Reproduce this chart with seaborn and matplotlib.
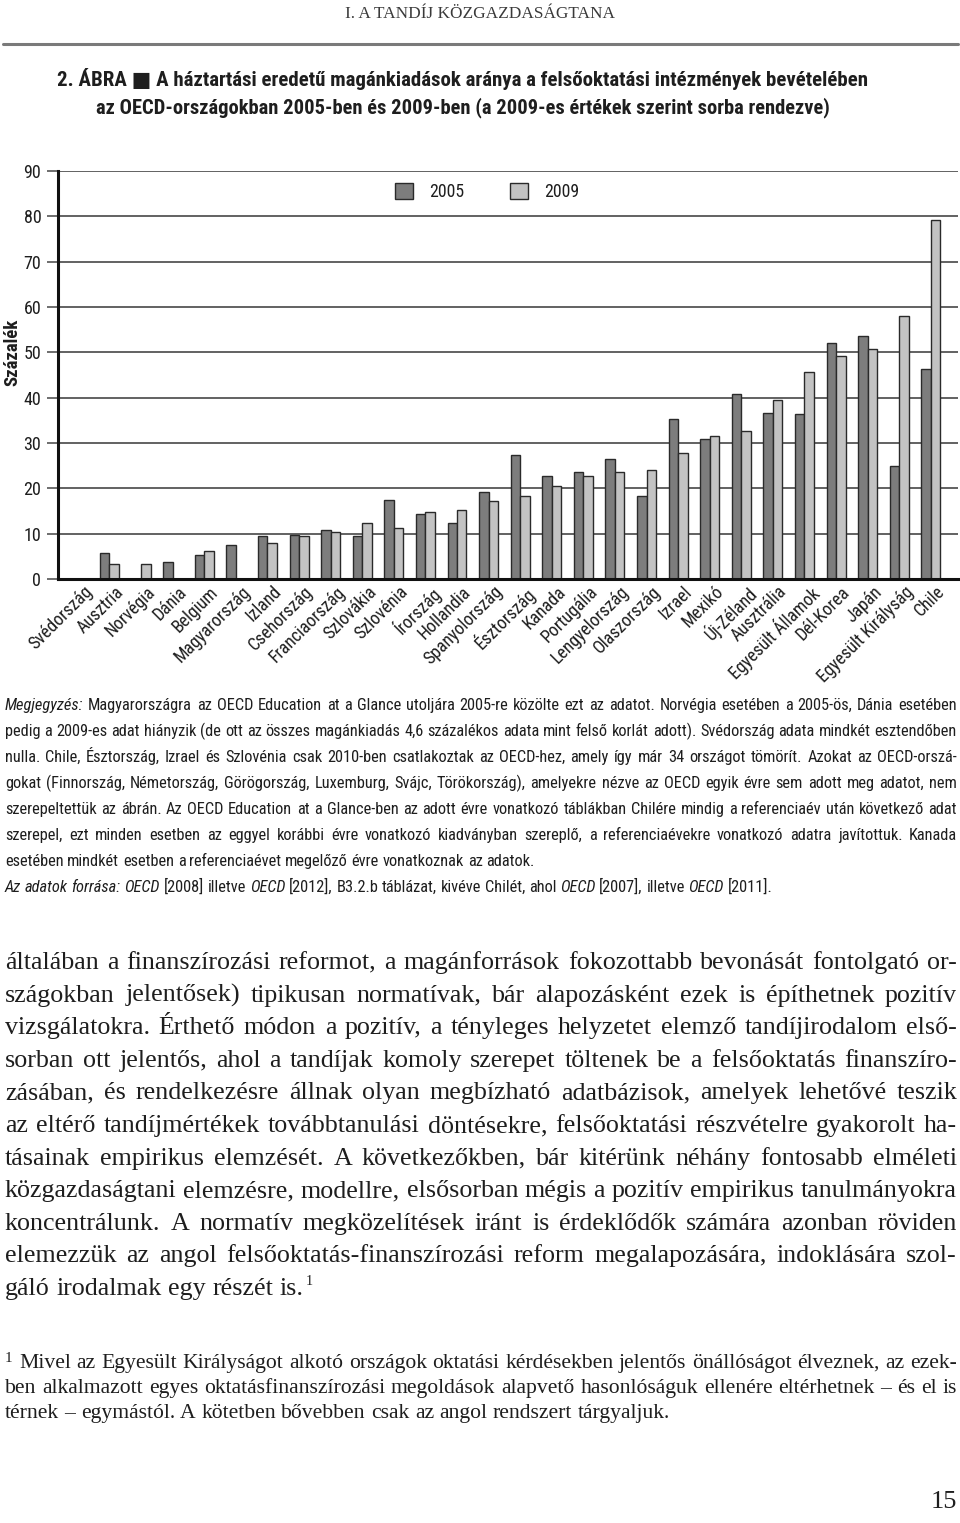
import numpy as np
import pandas as pd
import matplotlib
matplotlib.use("Agg")
import matplotlib.pyplot as plt
import seaborn as sns
from matplotlib import font_manager as fm
from matplotlib.transforms import IdentityTransform, ScaledTranslation

# ---------------- data ----------------
countries = ["Svédország", "Ausztria", "Norvégia", "Dánia", "Belgium", "Magyarország",
             "Izland", "Csehország", "Franciaország", "Szlovákia", "Szlovénia", "Írország",
             "Hollandia", "Spanyolország", "Észtország", "Kanada", "Portugália",
             "Lengyelország", "Olaszország", "Izrael", "Mexikó", "Új-Zéland", "Ausztrália",
             "Egyesült Államok", "Dél-Korea", "Japán", "Egyesült Királyság", "Chile"]
v2005 = [0.0, 5.8, np.nan, 3.8, 5.4, 7.6, 9.5, 9.8, 10.7, 9.5, 17.5, 14.3, 12.3, 19.2,
         27.3, 22.8, 23.6, 26.5, 18.4, 35.3, 30.9, 40.7, 36.6, 36.3, 52.1, 53.7, 24.9, 46.4]
v2009 = [0.0, 3.3, 3.3, np.nan, 6.2, np.nan, 7.9, 9.5, 10.3, 12.3, 11.2, 14.8, 15.3, 17.3,
         18.4, 20.6, 22.8, 23.6, 24.1, 27.8, 31.6, 32.6, 39.5, 45.6, 49.3, 50.8, 58.1, 79.2]
years = ["2005", "2009"]
yticks = [0, 10, 20, 30, 40, 50, 60, 70, 80, 90]

header = "I. A TANDÍJ KÖZGAZDASÁGTANA"
title1 = "2. ÁBRA ■ A háztartási eredetű magánkiadások aránya a felsőoktatási intézmények bevételében"
title2 = "az OECD-országokban 2005-ben és 2009-ben (a 2009-es értékek szerint sorba rendezve)"
ylabel = "Százalék"

notes = [
    ([("Megjegyzés:", "italic"), ("Magyarországra az OECD Education at a Glance utoljára 2005-re közölte ezt az adatot. Norvégia esetében a 2005-ös, Dánia esetében", "normal")], True),
    ([("pedig a 2009-es adat hiányzik (de ott az összes magánkiadás 4,6 százalékos adata mint felső korlát adott). Svédország adata mindkét esztendőben", "normal")], True),
    ([("nulla. Chile, Észtország, Izrael és Szlovénia csak 2010-ben csatlakoztak az OECD-hez, amely így már 34 országot tömörít. Azokat az OECD-orszá-", "normal")], True),
    ([("gokat (Finnország, Németország, Görögország, Luxemburg, Svájc, Törökország), amelyekre nézve az OECD egyik évre sem adott meg adatot, nem", "normal")], True),
    ([("szerepeltettük az ábrán. Az OECD Education at a Glance-ben az adott évre vonatkozó táblákban Chilére mindig a referenciaév után következő adat", "normal")], True),
    ([("szerepel, ezt minden esetben az eggyel korábbi évre vonatkozó kiadványban szereplő, a referenciaévekre vonatkozó adatra javítottuk. Kanada", "normal")], True),
    ([("esetében mindkét esetben a referenciaévet megelőző évre vonatkoznak az adatok.", "normal")], False),
    ([("Az adatok forrása: OECD", "italic"), ("[2008] illetve", "normal"), ("OECD", "italic"), ("[2012], B3.2.b táblázat, kivéve Chilét, ahol", "normal"), ("OECD", "italic"), ("[2007], illetve", "normal"), ("OECD", "italic"), ("[2011].", "normal")], False),
]

body = [
    "általában a finanszírozási reformot, a magánforrások fokozottabb bevonását fontolgató or-",
    "szágokban jelentősek) tipikusan normatívak, bár alapozásként ezek is építhetnek pozitív",
    "vizsgálatokra. Érthető módon a pozitív, a tényleges helyzetet elemző tandíjirodalom első-",
    "sorban ott jelentős, ahol a tandíjak komoly szerepet töltenek be a felsőoktatás finanszíro-",
    "zásában, és rendelkezésre állnak olyan megbízható adatbázisok, amelyek lehetővé teszik",
    "az eltérő tandíjmértékek továbbtanulási döntésekre, felsőoktatási részvételre gyakorolt ha-",
    "tásainak empirikus elemzését. A következőkben, bár kitérünk néhány fontosabb elméleti",
    "közgazdaságtani elemzésre, modellre, elsősorban mégis a pozitív empirikus tanulmányokra",
    "koncentrálunk. A normatív megközelítések iránt is érdeklődők számára azonban röviden",
    "elemezzük az angol felsőoktatás-finanszírozási reform megalapozására, indoklására szol-",
    "gáló irodalmak egy részét is.",
]
footnote = [
    "Mivel az Egyesült Királyságot alkotó országok oktatási kérdésekben jelentős önállóságot élveznek, az ezek-",
    "ben alkalmazott egyes oktatásfinanszírozási megoldások alapvető hasonlóságuk ellenére eltérhetnek – és el is",
    "térnek – egymástól. A kötetben bővebben csak az angol rendszert tárgyaljuk.",
]
page_no = "15"

# ---------------- fonts ----------------
names = {f.name for f in fm.fontManager.ttflist}
cond_list = sorted({(f.name, str(f.stretch)) for f in fm.fontManager.ttflist
                    if ("Condensed" in f.name or "Narrow" in f.name or "condensed" in str(f.stretch))})


def pick_condensed():
    for p in ["Roboto Condensed", "Liberation Sans Narrow", "Open Sans Condensed",
              "Noto Sans Condensed", "DejaVu Sans Condensed"]:
        if p in names:
            return p, "normal"
    for pref in ["DejaVu Sans", "Noto Sans", "Open Sans", "Roboto"]:
        for n_, st in cond_list:
            if n_ == pref and "condensed" in st:
                return n_, st
    return "DejaVu Sans", "normal"


COND, STRETCH = pick_condensed()
SERIF = "Liberation Serif" if "Liberation Serif" in names else "DejaVu Serif"
CONDF = [COND, "DejaVu Sans"]
SERIFF = [SERIF, "DejaVu Serif"]

sns.set_theme(style="white")
plt.rcParams["font.family"] = CONDF
plt.rcParams["font.stretch"] = STRETCH

W, H = 960, 1523
fig = plt.figure(figsize=(W / 100, H / 100), dpi=100)
fig.patch.set_facecolor("white")
R = fig.canvas.get_renderer()
ID = IdentityTransform()
TXT = "#1e1e1e"
CK = dict(family=CONDF, fontstretch=STRETCH)

# ---------------- chart ----------------
ax_left, ax_right, ax_top, ax_bot = 58, 958, 171, 579
ax = fig.add_axes([ax_left / W, (H - ax_bot) / H, (ax_right - ax_left) / W, (ax_bot - ax_top) / H])

df = pd.DataFrame({
    "Ország": countries * 2,
    "Év": [years[0]] * len(countries) + [years[1]] * len(countries),
    "Érték": v2005 + v2009,
}).dropna()

sns.barplot(data=df, x="Ország", y="Érték", hue="Év", order=countries, hue_order=years,
            palette=["#7d7d7d", "#c3c3c3"], saturation=1, width=0.6, gap=0,
            edgecolor="#2a2a2a", linewidth=1.0, errorbar=None, ax=ax, zorder=3)

ax.set_xlim(-0.63, 27.86)
ax.set_ylim(0, 90)
ax.set_yticks(yticks)
ax.set_yticklabels([str(v) for v in yticks], fontsize=13, color=TXT, **CK)
ax.yaxis.grid(True, color="#555555", linewidth=1.3, zorder=0)
ax.xaxis.grid(False)
ax.set_axisbelow(True)
for s in ["top", "right"]:
    ax.spines[s].set_visible(False)
for s in ["left", "bottom"]:
    ax.spines[s].set_color("#111111")
    ax.spines[s].set_linewidth(2.2)
    ax.spines[s].set_zorder(5)
ax.tick_params(axis="y", which="both", left=True, length=8, width=1.2, color="#555555", pad=4, direction="out")
ax.tick_params(axis="x", length=0, pad=2)
ax.set_xlabel("")
ax.set_ylabel("")
ax.set_xticks(range(len(countries)))
ax.set_xticklabels(countries, rotation=45, ha="right", va="top", rotation_mode="anchor",
                   fontsize=12.8, color=TXT, **CK)
off = ScaledTranslation(5 / 100, -1 / 100, fig.dpi_scale_trans)
for lab in ax.get_xticklabels():
    lab.set_transform(lab.get_transform() + off)

handles, labels = ax.get_legend_handles_labels()
leg = ax.legend(handles, labels, ncol=2, loc="center", bbox_to_anchor=(0.477, 0.949),
                frameon=False, handlelength=1.0, handleheight=1.0, columnspacing=2.6,
                handletextpad=0.9, prop={"family": CONDF, "size": 12.8, "stretch": STRETCH})
for t in leg.get_texts():
    t.set_color(TXT)

fig.text(12, H - 352, ylabel, transform=ID, rotation=90, ha="center", va="center",
         fontsize=13.5, fontweight="bold", color=TXT, **CK)


# ---------------- helpers for page text ----------------
def fit_text(x0, x1, yc, s, size0=12, **kw):
    t = fig.text(x0, H - yc, s, transform=ID, fontsize=size0, ha="left", va="center", **kw)
    w = t.get_window_extent(R).width
    t.set_fontsize(size0 * (x1 - x0) / w)
    return t


def measure(s, size, style="normal", **kw):
    t = fig.text(0, 0, s, transform=ID, fontsize=size, style=style, **kw)
    w = t.get_window_extent(R).width
    t.remove()
    return w


def words_of(segs):
    return [(w, st) for s, st in segs for w in s.split()]


def natural_width(segs, size, **kw):
    ws = words_of(segs)
    sp = measure("x x", size, **kw) - measure("xx", size, **kw)
    return sum(measure(w, size, st, **kw) for w, st in ws) + (len(ws) - 1) * sp


def block_size(lines, width, size0, **kw):
    """largest font size at which every line fits its width with natural spacing"""
    k = min(width_i / natural_width(segs, size0, **kw) for segs, width_i in zip(lines, width))
    return size0 * k


def line(yb, segs, size, x0=5, x1=957, justify=True, color=TXT, **kw):
    words = words_of(segs)
    sp = measure("x x", size, **kw) - measure("xx", size, **kw)
    arts = [fig.text(0, H - yb, w, transform=ID, fontsize=size, style=st,
                     ha="left", va="baseline", color=color, **kw) for w, st in words]
    ws = [a.get_window_extent(R).width for a in arts]
    n = len(words)
    gap = (x1 - x0 - sum(ws)) / (n - 1) if (justify and n > 1) else sp
    x = x0
    for a, w in zip(arts, ws):
        a.set_x(x)
        x += w + gap
    return x - gap


# header and rule
fit_text(345, 614, 14, header, family=SERIFF, color="#3a3a3a")
fig.add_artist(plt.Line2D([3 / W, 958 / W], [1 - 44 / H, 1 - 44 / H], color="#7a7a7a", linewidth=2.2))

# title
fit_text(57, 872, 79, title1, fontweight="bold", color=TXT, **CK)
fit_text(96, 832, 108, title2, fontweight="bold", color=TXT, **CK)

# notes
just_notes = [segs for segs, j in notes if j]
ns = block_size(just_notes, [952] * len(just_notes), 12, **CK)
ns = min(ns, 13.5)
for i, (segs, just) in enumerate(notes):
    line(710 + 26 * i, segs, ns, justify=just, **CK)

# body text
bsegs = [[(s, "normal")] for s in body[:-1]]
bs = block_size(bsegs, [952] * len(bsegs), 17, family=SERIFF)
for i, s in enumerate(body):
    last = i == len(body) - 1
    xe = line(969 + 32.6 * i, [(s, "normal")], bs, justify=not last, family=SERIFF)
    if last:
        fig.text(xe + 2, H - (969 + 32.6 * i) + 10, "1", transform=ID, fontsize=bs * 0.55,
                 family=SERIFF, ha="left", va="baseline", color=TXT)

# footnote
fsegs = [[(footnote[0], "normal")], [(footnote[1], "normal")]]
fsz = block_size(fsegs, [938, 952], 14, family=SERIFF)
fig.text(5, H - 1368 + 6, "1", transform=ID, fontsize=fsz * 0.7, family=SERIFF, ha="left",
         va="baseline", color=TXT)
for i, s in enumerate(footnote):
    x0 = 19 if i == 0 else 5
    line(1368 + 25 * i, [(s, "normal")], fsz, x0=x0, justify=(i < 2), family=SERIFF)

# page number
fig.text(957, H - 1508, page_no, transform=ID, fontsize=19, family=SERIFF,
         ha="right", va="baseline", color=TXT)

fig.savefig("out.png", dpi=100, facecolor="white")
